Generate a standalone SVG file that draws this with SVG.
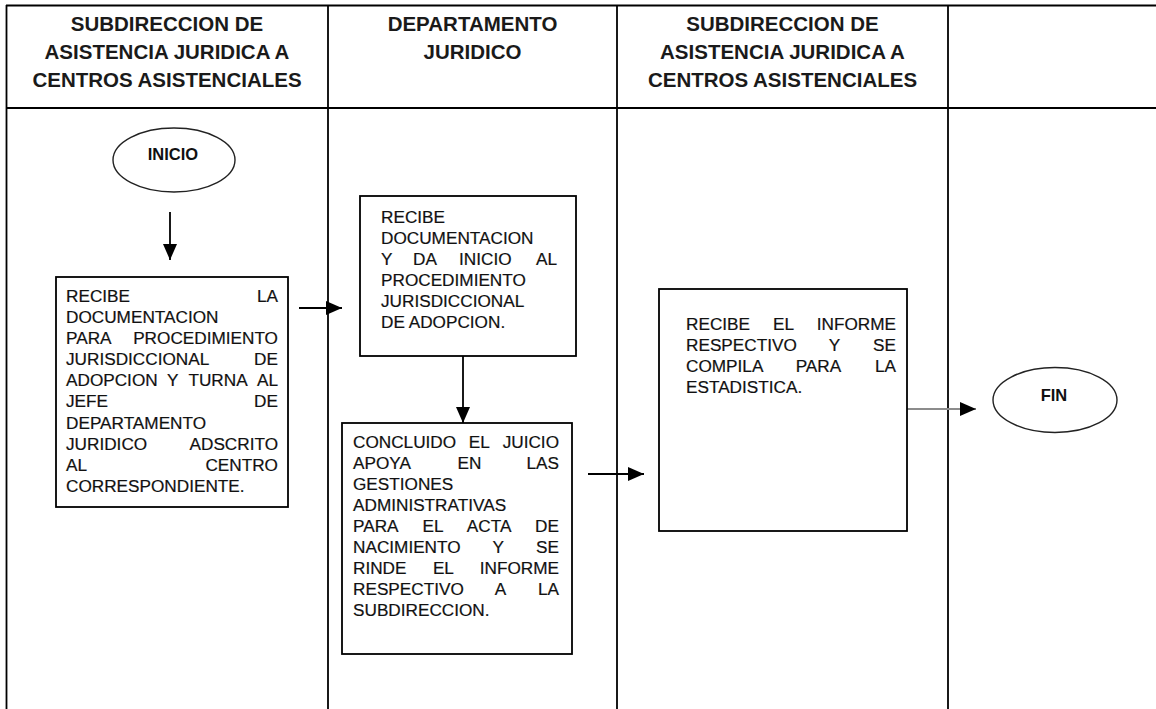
<svg xmlns="http://www.w3.org/2000/svg" width="1156" height="709" viewBox="0 0 1156 709">
<style>
.grid{stroke:#000;stroke-width:1.8;fill:none}
.box{stroke:#000;stroke-width:1.8;fill:#fff}
.oval{stroke:#222;stroke-width:1.4;fill:#fff}
.hdr{font-family:"Liberation Sans",Arial,sans-serif;font-weight:bold;font-size:20.5px;fill:#1a1a1a;text-anchor:middle}
.t{font-family:"Liberation Sans",Arial,sans-serif;font-size:17.2px;fill:#111;stroke:#111;stroke-width:0.2}
.e{text-anchor:end}
.term{font-family:"Liberation Sans",Arial,sans-serif;font-weight:bold;font-size:16.5px;fill:#111;text-anchor:middle}
.conn{stroke:#000;stroke-width:1.8;fill:none}
.conn-gray{stroke:#8c8c8c;stroke-width:2;fill:none}
</style>
<defs>
<marker id="arrow" markerUnits="userSpaceOnUse" markerWidth="16" markerHeight="14" refX="16" refY="7" orient="auto">
<path d="M0,0 L16,7 L0,14 Z" fill="#000" stroke="none"/>
</marker>
</defs>
<rect width="1156" height="709" fill="#fff"/>
<g id="table">
<line class="grid" x1="6" y1="5.5" x2="1160" y2="5.5"/>
<line class="grid" x1="6.5" y1="5" x2="6.5" y2="712"/>
<line class="grid" x1="6" y1="108" x2="1160" y2="108"/>
<line class="grid" x1="328" y1="5" x2="328" y2="712"/>
<line class="grid" x1="617" y1="5" x2="617" y2="712"/>
<line class="grid" x1="948" y1="5" x2="948" y2="712"/>
</g>
<g id="header-1">
<text class="hdr" x="167" y="30.5">SUBDIRECCION DE</text>
<text class="hdr" x="167" y="58.5">ASISTENCIA JURIDICA A</text>
<text class="hdr" x="167" y="86.5">CENTROS ASISTENCIALES</text>
</g>
<g id="header-2">
<text class="hdr" x="472.5" y="30.5">DEPARTAMENTO</text>
<text class="hdr" x="472.5" y="58.5">JURIDICO</text>
</g>
<g id="header-3">
<text class="hdr" x="782.5" y="30.5">SUBDIRECCION DE</text>
<text class="hdr" x="782.5" y="58.5">ASISTENCIA JURIDICA A</text>
<text class="hdr" x="782.5" y="86.5">CENTROS ASISTENCIALES</text>
</g>
<g id="connectors">
<line class="conn" x1="170" y1="212" x2="170" y2="260" marker-end="url(#arrow)"/>
<line class="conn" x1="299" y1="308" x2="342" y2="308" marker-end="url(#arrow)"/>
<line class="conn" x1="463" y1="356" x2="463" y2="423" marker-end="url(#arrow)"/>
<line class="conn" x1="588" y1="474" x2="644" y2="474" marker-end="url(#arrow)"/>
<line class="conn-gray" x1="906" y1="409" x2="976" y2="409" marker-end="url(#arrow)"/>
</g>
<g id="inicio">
<ellipse class="oval" cx="174" cy="160" rx="61" ry="32"/>
<text class="term" x="173" y="160">INICIO</text>
</g>
<g id="step-1">
<rect class="box" x="56" y="277" width="232" height="230"/>
<text class="t" x="66" y="302">RECIBE</text><text class="t e" x="278" y="302">LA</text>
<text class="t" x="66" y="323">DOCUMENTACION</text>
<text class="t" x="66" y="344">PARA</text><text class="t e" x="278" y="344">PROCEDIMIENTO</text>
<text class="t" x="66" y="365">JURISDICCIONAL</text><text class="t e" x="278" y="365">DE</text>
<text class="t" x="66" y="386">ADOPCION</text><text class="t" x="166.9" y="386">Y</text><text class="t" x="188.4" y="386">TURNA</text><text class="t e" x="278" y="386">AL</text>
<text class="t" x="66" y="407">JEFE</text><text class="t e" x="278" y="407">DE</text>
<text class="t" x="66" y="428.5">DEPARTAMENTO</text>
<text class="t" x="66" y="449.5">JURIDICO</text><text class="t e" x="278" y="449.5">ADSCRITO</text>
<text class="t" x="66" y="470.5">AL</text><text class="t e" x="278" y="470.5">CENTRO</text>
<text class="t" x="66" y="492">CORRESPONDIENTE.</text>
</g>
<g id="step-2">
<rect class="box" x="360" y="196" width="216" height="160"/>
<text class="t" x="381" y="223">RECIBE</text>
<text class="t" x="381" y="244">DOCUMENTACION</text>
<text class="t" x="381" y="265">Y</text><text class="t" x="413" y="265">DA</text><text class="t" x="459" y="265">INICIO</text><text class="t e" x="557" y="265">AL</text>
<text class="t" x="381" y="286">PROCEDIMIENTO</text>
<text class="t" x="381" y="307">JURISDICCIONAL</text>
<text class="t" x="381" y="328">DE ADOPCION.</text>
</g>
<g id="step-3">
<rect class="box" x="342" y="423" width="230" height="231"/>
<text class="t" x="353" y="448">CONCLUIDO</text><text class="t" x="468.8" y="448">EL</text><text class="t e" x="559" y="448">JUICIO</text>
<text class="t" x="353" y="469">APOYA</text><text class="t" x="457.5" y="469">EN</text><text class="t e" x="559" y="469">LAS</text>
<text class="t" x="353" y="490">GESTIONES</text>
<text class="t" x="353" y="511">ADMINISTRATIVAS</text>
<text class="t" x="353" y="532">PARA</text><text class="t" x="422.6" y="532">EL</text><text class="t" x="466.8" y="532">ACTA</text><text class="t e" x="559" y="532">DE</text>
<text class="t" x="353" y="553">NACIMIENTO</text><text class="t" x="492.4" y="553">Y</text><text class="t e" x="559" y="553">SE</text>
<text class="t" x="353" y="574">RINDE</text><text class="t" x="432.9" y="574">EL</text><text class="t e" x="559" y="574">INFORME</text>
<text class="t" x="353" y="595">RESPECTIVO</text><text class="t" x="494.8" y="595">A</text><text class="t e" x="559" y="595">LA</text>
<text class="t" x="353" y="616">SUBDIRECCION.</text>
</g>
<g id="step-4">
<rect class="box" x="659" y="289" width="248" height="242"/>
<text class="t" x="686" y="330">RECIBE</text><text class="t" x="773" y="330">EL</text><text class="t e" x="896" y="330">INFORME</text>
<text class="t" x="686" y="351">RESPECTIVO</text><text class="t" x="828.8" y="351">Y</text><text class="t e" x="896" y="351">SE</text>
<text class="t" x="686" y="372">COMPILA</text><text class="t" x="795.7" y="372">PARA</text><text class="t e" x="896" y="372">LA</text>
<text class="t" x="686" y="393">ESTADISTICA.</text>
</g>
<g id="fin">
<ellipse class="oval" cx="1055" cy="400" rx="62" ry="32.5"/>
<text class="term" x="1054" y="401">FIN</text>
</g>
</svg>
